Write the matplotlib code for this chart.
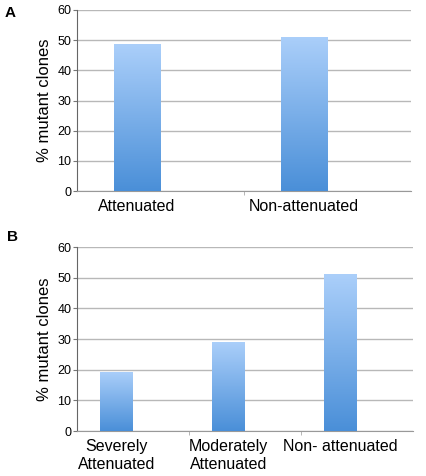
import matplotlib
matplotlib.use("Agg")
import matplotlib.pyplot as plt
import numpy as np
from matplotlib.colors import LinearSegmentedColormap

plt.rcParams['font.family'] = ['Liberation Sans', 'DejaVu Sans']

cats_a = ["Attenuated", "Non-attenuated"]
vals_a = [48.7, 51.2]
cats_b = ["Severely\nAttenuated", "Moderately\nAttenuated", "Non- attenuated"]
vals_b = [19.3, 29.1, 51.1]
yticks = [0, 10, 20, 30, 40, 50, 60]

cmap = LinearSegmentedColormap.from_list("g", ["#4a8fd8", "#abcffa"])

fig = plt.figure(figsize=(4.26, 4.76), dpi=100)
ax_a = fig.add_axes([77/426, 1-191/476, 334/426, 181/476])
ax_b = fig.add_axes([77/426, 1-431/476, 336/426, 184/476])


def panel(ax, cats, vals, offset, width):
    n = len(cats)
    x = np.arange(n) - offset
    bars = ax.bar(x, vals, width=width, color="none", edgecolor="none", zorder=3)
    grad = np.linspace(0, 1, 256).reshape(-1, 1)
    for b in bars:
        x0, y0 = b.get_x(), b.get_y()
        w, h = b.get_width(), b.get_height()
        im = ax.imshow(grad, cmap=cmap, origin="lower", aspect="auto",
                       extent=[x0, x0 + w, y0, y0 + h], zorder=3)
        im.set_clip_path(b)
    ax.set_xlim(-0.5, n - 0.5)
    ax.set_ylim(0, 60)
    ax.set_yticks(yticks)
    ax.set_xticks(x)
    ax.set_xticklabels(cats, fontsize=11.5, linespacing=1.25)
    ax.set_xticks(np.arange(n - 1) + 0.5, minor=True)
    ax.tick_params(axis="x", which="major", length=0, pad=6)
    ax.tick_params(axis="x", which="minor", length=3, color="#aaaaaa", direction="out")
    ax.tick_params(axis="y", length=3, color="#777777", labelsize=9, pad=1)
    ax.yaxis.grid(True, color="#b8b8b8", linewidth=1, zorder=0)
    ax.set_axisbelow(True)
    for s in ["top", "right"]:
        ax.spines[s].set_visible(False)
    ax.spines["left"].set_color("#666666")
    ax.spines["bottom"].set_color("#999999")
    ax.set_ylabel("% mutant clones", fontsize=12, labelpad=4)


panel(ax_a, cats_a, vals_a, 0.14, 0.28)
panel(ax_b, cats_b, vals_b, 0.15, 0.29)

fig.text(5/426, 1-13/476, "A", fontsize=11, fontweight="bold", va="center", ha="left")
fig.text(7/426, 1-237/476, "B", fontsize=11, fontweight="bold", va="center", ha="left")

fig.savefig("out.png", dpi=100)
